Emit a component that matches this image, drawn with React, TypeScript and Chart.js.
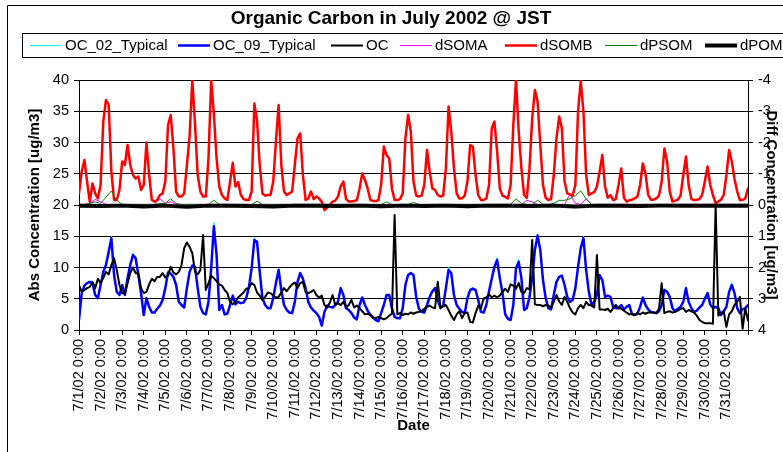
import React, { useEffect, useRef } from 'react';
import { Chart, registerables } from 'chart.js';

Chart.register(...registerables);

const FONT = "'Liberation Sans', Arial, sans-serif";

const chartTitle = 'Organic Carbon in July 2002 @ JST';
const xTitle = 'Date';
const yLeftTitle = 'Abs Concentration [ug/m3]';
const yRightTitle = 'Diff Concentration [ug/m3]';

const dayLabels = [
  '7/1/02 0:00', '7/2/02 0:00', '7/3/02 0:00', '7/4/02 0:00', '7/5/02 0:00', '7/6/02 0:00',
  '7/7/02 0:00', '7/8/02 0:00', '7/9/02 0:00', '7/10/02 0:00', '7/11/02 0:00', '7/12/02 0:00',
  '7/13/02 0:00', '7/14/02 0:00', '7/15/02 0:00', '7/16/02 0:00', '7/17/02 0:00', '7/18/02 0:00',
  '7/19/02 0:00', '7/20/02 0:00', '7/21/02 0:00', '7/22/02 0:00', '7/23/02 0:00', '7/24/02 0:00',
  '7/25/02 0:00', '7/26/02 0:00', '7/27/02 0:00', '7/28/02 0:00', '7/29/02 0:00', '7/30/02 0:00',
  '7/31/02 0:00',
];

// sampling interval of each series, in hours from 7/1/02 0:00
const mainStepHours = 3;
const minorStepHours = 6;
const dPomStepHours = 24;
const lastHour = 744;

// Abs concentration series (left axis, ug/m3), one row per day, 3-hourly
const oc02Typical = [
  1.6, 5.9, 7.1, 7.5, 7.9, 7.5, 5.6, 5.1,
  7.2, 9.3, 10.4, 12.5, 15.0, 8.8, 6.1, 5.6,
  7.2, 5.6, 8.3, 10.4, 12.3, 11.5, 8.8, 5.9,
  2.4, 5.1, 3.7, 2.8, 2.8, 3.4, 3.9, 4.8,
  6.7, 9.5, 9.0, 8.5, 7.2, 4.5, 4.0, 3.6,
  6.7, 9.3, 10.5, 10.1, 6.7, 3.7, 2.7, 2.5,
  4.5, 9.9, 17.2, 12.0, 3.2, 4.0, 2.5, 2.6,
  4.0, 5.5, 4.1, 4.5, 4.3, 4.4, 5.1, 6.9,
  9.9, 14.8, 14.1, 9.3, 5.1, 4.0, 3.5, 3.5,
  5.1, 7.5, 9.9, 6.4, 4.0, 3.2, 2.8, 2.7,
  4.5, 7.7, 9.3, 8.2, 6.7, 4.5, 3.6, 3.1,
  2.7, 2.1, 0.7, 2.9, 3.9, 3.7, 3.6, 4.0,
  4.5, 6.7, 5.6, 3.5, 3.2, 2.7, 2.0, 1.7,
  4.0, 5.2, 4.0, 3.1, 2.4, 2.0, 1.6, 1.4,
  2.7, 4.0, 5.6, 5.6, 3.5, 2.1, 1.9, 1.9,
  3.5, 7.2, 8.8, 9.3, 8.8, 5.3, 3.4, 2.9,
  2.8, 4.0, 5.3, 6.2, 6.9, 4.8, 3.5, 3.9,
  6.7, 10.0, 9.1, 5.6, 4.0, 3.4, 2.9, 2.7,
  5.1, 6.4, 6.8, 6.4, 4.8, 2.9, 2.8, 4.0,
  6.2, 8.2, 10.1, 11.6, 8.3, 5.9, 2.5, 1.8,
  1.6, 4.0, 9.9, 11.3, 8.3, 3.2, 3.5, 5.3,
  8.3, 12.8, 15.4, 12.8, 8.0, 5.1, 3.5, 3.3,
  5.6, 7.7, 8.5, 8.7, 7.2, 5.3, 4.5, 4.8,
  6.7, 10.1, 13.1, 15.0, 9.6, 6.1, 4.0, 4.5,
  5.6, 8.8, 8.0, 5.3, 5.5, 5.3, 3.7, 3.5,
  3.5, 4.0, 3.3, 3.7, 4.0, 2.5, 2.4, 2.6,
  3.7, 5.2, 4.0, 3.3, 2.9, 2.8, 2.7, 3.0,
  4.0, 6.6, 6.1, 5.3, 3.5, 3.0, 3.4, 3.7,
  4.5, 6.9, 4.5, 3.5, 2.9, 3.1, 3.6, 4.0,
  5.0, 6.1, 4.1, 3.5, 3.7, 3.5, 2.4, 3.0,
  3.7, 6.1, 7.6, 5.9, 3.5, 2.7, 3.3, 3.5,
  4.0,
];

const oc09Typical = [
  1.6, 5.9, 7.1, 7.5, 7.7, 7.5, 5.6, 5.1,
  7.2, 9.3, 10.4, 12.5, 14.7, 8.8, 6.1, 5.6,
  7.2, 5.6, 8.3, 10.4, 12.0, 11.5, 8.8, 5.9,
  2.4, 5.1, 3.7, 2.8, 2.8, 3.4, 3.9, 4.8,
  6.7, 9.2, 9.0, 8.5, 7.2, 4.5, 4.0, 3.6,
  6.7, 9.3, 10.3, 10.1, 6.7, 3.7, 2.7, 2.5,
  4.5, 9.9, 16.6, 12.0, 3.2, 4.0, 2.5, 2.6,
  4.0, 5.5, 4.1, 4.5, 4.3, 4.4, 5.1, 6.9,
  9.9, 14.4, 14.1, 9.3, 5.1, 4.0, 3.5, 3.5,
  5.1, 7.5, 9.6, 6.4, 4.0, 3.2, 2.8, 2.7,
  4.5, 7.7, 9.1, 8.2, 6.7, 4.5, 3.6, 3.1,
  2.7, 2.1, 0.7, 2.9, 3.9, 3.7, 3.6, 4.0,
  4.5, 6.7, 5.6, 3.5, 3.2, 2.7, 2.0, 1.7,
  4.0, 5.2, 4.0, 3.1, 2.4, 2.0, 1.6, 1.4,
  2.7, 4.0, 5.6, 5.6, 3.5, 2.1, 1.9, 1.9,
  3.5, 7.2, 8.8, 9.1, 8.8, 5.3, 3.4, 2.9,
  2.8, 4.0, 5.3, 6.2, 6.7, 4.8, 3.5, 3.9,
  6.7, 9.6, 9.1, 5.6, 4.0, 3.4, 2.9, 2.7,
  5.1, 6.4, 6.6, 6.4, 4.8, 2.9, 2.8, 4.0,
  6.2, 8.2, 10.1, 11.2, 8.3, 5.9, 2.5, 1.8,
  1.6, 4.0, 9.9, 10.9, 8.3, 3.2, 3.5, 5.3,
  8.3, 12.8, 15.1, 12.8, 8.0, 5.1, 3.5, 3.3,
  5.6, 7.7, 8.5, 8.7, 7.2, 5.3, 4.5, 4.8,
  6.7, 10.1, 13.1, 14.7, 9.6, 6.1, 4.0, 4.5,
  5.6, 8.8, 8.0, 5.3, 5.5, 5.3, 3.7, 3.5,
  3.5, 4.0, 3.3, 3.7, 4.0, 2.5, 2.4, 2.6,
  3.7, 5.2, 4.0, 3.3, 2.9, 2.8, 2.7, 3.0,
  4.0, 6.4, 6.1, 5.3, 3.5, 3.0, 3.4, 3.7,
  4.5, 6.7, 4.5, 3.5, 2.9, 3.1, 3.6, 4.0,
  5.0, 5.9, 4.1, 3.5, 3.7, 3.5, 2.4, 3.0,
  3.7, 6.1, 7.2, 5.9, 3.5, 2.7, 3.3, 3.5,
  4.0,
];

const ocMeasured = [
  7.2, 6.1, 6.4, 6.7, 6.9, 7.7, 6.7, 8.2,
  7.5, 8.3, 9.3, 8.9, 10.4, 11.5, 9.6, 7.2,
  5.9, 5.9, 7.5, 9.1, 10.0, 9.1, 9.1, 6.7,
  5.9, 6.1, 7.3, 8.2, 7.8, 8.5, 8.5, 9.1,
  8.4, 8.7, 10.1, 9.2, 8.9, 9.3, 10.4, 13.1,
  14.0, 13.3, 12.3, 9.3, 8.9, 9.6, 15.2, 6.4,
  7.5, 8.7, 8.3, 7.8, 7.3, 7.1, 6.4, 5.9,
  4.5, 4.1, 4.5, 5.2, 5.6, 6.0, 6.6, 6.7,
  7.5, 7.2, 6.0, 5.5, 4.8, 5.3, 6.0, 5.9,
  5.5, 5.2, 5.3, 6.0, 6.7, 6.2, 6.8, 7.3,
  7.6, 6.7, 7.5, 7.7, 6.1, 5.9, 6.1, 6.4,
  5.6, 5.2, 5.5, 4.0, 3.6, 4.4, 5.6, 4.0,
  4.3, 4.0, 4.5, 3.6, 4.0, 4.8, 3.6, 3.9,
  3.5, 3.0, 2.5, 2.6, 2.4, 2.0, 1.9, 2.1,
  1.9, 1.7, 1.9, 2.3, 2.6, 18.4, 2.5, 2.7,
  2.4, 2.6, 2.5, 2.8, 2.6, 2.8, 2.9, 3.0,
  3.4, 3.7, 3.9, 3.6, 3.5, 7.7, 3.6, 3.8,
  4.0, 3.2, 2.3, 1.6, 2.5, 3.0, 1.9, 2.7,
  2.8, 1.3, 1.2, 2.7, 3.9, 3.5, 5.0, 5.2,
  5.7, 5.2, 5.5, 5.2, 5.5, 6.1, 6.6, 6.1,
  7.3, 7.1, 6.6, 7.5, 6.1, 5.9, 6.7, 6.5,
  14.4, 4.1, 4.0, 4.0, 3.8, 4.0, 3.9, 3.6,
  4.5, 5.6, 4.6, 4.0, 5.3, 4.5, 3.5, 2.8,
  2.5, 3.5, 4.0, 3.5, 4.5, 4.0, 3.9, 3.6,
  12.0, 3.3, 3.3, 3.2, 3.4, 2.9, 3.5, 4.0,
  3.5, 3.4, 3.1, 2.8, 2.5, 2.6, 2.4, 2.7,
  2.5, 2.8, 2.6, 2.8, 2.8, 2.8, 2.7, 3.4,
  7.5, 2.7, 2.9, 3.0, 2.8, 2.9, 3.1, 3.4,
  3.5, 2.9, 3.2, 3.0, 2.8, 2.3, 1.6, 1.3,
  1.1, 1.1, 1.1, 1.0, 20.0, 2.3, 2.7, 3.0,
  0.5, 2.5, 3.0, 4.0, 4.5, 5.3, 0.2, 3.5,
  1.5,
];

// Diff concentration series (right axis, ug/m3)
// dSOMA: 6-hourly, one row per day
const dSOMA = [
  -0.02, -0.02, -0.05, -0.18,
  -0.1, -0.02, -0.02, -0.02,
  -0.02, -0.02, -0.02, -0.02,
  -0.02, -0.02, -0.02, -0.2,
  -0.05, -0.1, -0.02, -0.02,
  -0.02, -0.02, -0.02, -0.02,
  -0.02, -0.02, -0.02, -0.02,
  -0.02, -0.02, -0.02, -0.02,
  -0.02, -0.02, -0.02, -0.02,
  -0.02, -0.02, -0.02, -0.02,
  -0.02, -0.02, -0.02, -0.02,
  -0.02, -0.02, -0.02, -0.02,
  -0.02, -0.02, -0.02, -0.02,
  -0.02, -0.02, -0.02, -0.02,
  -0.02, -0.02, -0.02, -0.02,
  -0.02, -0.02, -0.02, -0.02,
  -0.02, -0.02, -0.02, -0.02,
  -0.02, -0.02, -0.02, -0.02,
  -0.02, -0.02, -0.02, -0.02,
  -0.02, -0.02, -0.02, -0.02,
  -0.02, -0.02, -0.02, -0.15,
  -0.1, -0.02, -0.02, -0.02,
  -0.02, -0.02, -0.02, -0.35,
  -0.05, -0.02, -0.2, -0.02,
  -0.02, -0.02, -0.02, -0.02,
  -0.02, -0.02, -0.02, -0.02,
  -0.02, -0.02, -0.02, -0.02,
  -0.02, -0.02, -0.02, -0.02,
  -0.02, -0.02, -0.02, -0.02,
  -0.02, -0.02, -0.02, -0.02,
  -0.02, -0.02, -0.02, -0.02,
  -0.02,
];

// dSOMB: 3-hourly, one row per day
const dSOMB = [
  -0.37, -1.07, -1.44, -0.75, -0.1, -0.69, -0.37, -0.21,
  -0.64, -2.67, -3.36, -3.2, -1.07, -0.16, -0.16, -0.48,
  -1.39, -1.28, -1.92, -1.28, -0.96, -0.85, -0.91, -0.48,
  -0.64, -2.0, -0.96, -0.16, -0.11, -0.16, -0.32, -0.37,
  -0.75, -2.56, -2.88, -1.81, -0.43, -0.27, -0.27, -0.37,
  -1.28, -2.2, -4.0, -2.6, -0.96, -0.43, -0.27, -0.27,
  -1.49, -4.0, -2.9, -1.49, -0.59, -0.32, -0.21, -0.16,
  -0.75, -1.35, -0.59, -0.73, -0.32, -0.19, -0.16, -0.16,
  -0.43, -3.25, -2.7, -1.28, -0.37, -0.3, -0.32, -0.32,
  -0.75, -2.03, -3.2, -1.28, -0.43, -0.32, -0.37, -0.43,
  -1.28, -2.13, -2.29, -0.96, -0.16, -0.21, -0.43, -0.19,
  -0.27, -0.21, -0.1, 0.16, 0.08, 0.0, -0.11, -0.14,
  -0.27, -0.59, -0.75, -0.19, -0.11, -0.11, -0.13, -0.15,
  -0.53, -1.01, -0.8, -0.53, -0.16, -0.13, -0.13, -0.15,
  -0.64, -1.87, -1.6, -1.49, -0.53, -0.16, -0.16, -0.19,
  -0.37, -2.13, -2.88, -2.35, -0.75, -0.3, -0.27, -0.3,
  -0.64, -1.76, -1.07, -0.53, -0.48, -0.32, -0.27, -0.3,
  -1.17, -3.15, -2.35, -1.17, -0.37, -0.21, -0.21, -0.3,
  -0.75, -1.92, -1.87, -0.96, -0.32, -0.16, -0.16, -0.21,
  -0.64, -2.45, -2.67, -1.71, -0.53, -0.3, -0.26, -0.21,
  -0.64, -2.56, -4.0, -2.35, -1.17, -0.32, -0.23, -1.17,
  -2.77, -3.68, -3.31, -1.92, -0.64, -0.23, -0.16, -0.19,
  -0.96, -2.13, -2.83, -2.45, -0.75, -0.37, -0.34, -0.3,
  -0.64, -2.99, -3.97, -2.99, -0.96, -0.32, -0.37, -0.41,
  -0.59, -1.07, -1.6, -0.59, -0.23, -0.32, -0.16, -0.19,
  -0.64, -1.17, -0.23, -0.11, -0.15, -0.17, -0.21, -0.27,
  -0.64, -1.33, -1.01, -0.32, -0.17, -0.17, -0.21, -0.3,
  -0.75, -1.81, -1.39, -0.43, -0.11, -0.14, -0.17, -0.3,
  -0.96, -1.55, -0.64, -0.19, -0.16, -0.17, -0.19, -0.32,
  -0.75, -1.23, -0.64, -0.32, -0.05, -0.11, -0.17, -0.32,
  -0.96, -1.76, -1.39, -0.83, -0.43, -0.16, -0.16, -0.21,
  -0.53,
];

// dPSOM: 6-hourly, one row per day
const dPSOM = [
  -0.02, -0.02, -0.05, -0.1,
  -0.05, -0.25, -0.45, -0.15,
  -0.02, -0.02, -0.02, -0.02,
  -0.02, -0.02, -0.02, -0.05,
  -0.05, -0.2, -0.05, -0.02,
  -0.02, -0.02, -0.02, -0.02,
  -0.02, -0.15, -0.02, -0.02,
  -0.02, -0.02, -0.02, -0.02,
  -0.02, -0.12, -0.02, -0.02,
  -0.02, -0.02, -0.02, -0.02,
  -0.02, -0.02, -0.02, -0.02,
  -0.02, -0.02, -0.02, -0.02,
  -0.02, -0.02, -0.02, -0.02,
  -0.02, -0.02, -0.02, -0.02,
  -0.02, -0.1, -0.02, -0.02,
  -0.02, -0.02, -0.08, -0.02,
  -0.02, -0.02, -0.02, -0.02,
  -0.02, -0.02, -0.02, -0.02,
  -0.02, -0.02, -0.02, -0.02,
  -0.02, -0.02, -0.02, -0.02,
  -0.02, -0.2, -0.05, -0.02,
  -0.02, -0.15, -0.02, -0.02,
  -0.05, -0.15, -0.15, -0.2,
  -0.3, -0.45, -0.2, -0.02,
  -0.02, -0.02, -0.02, -0.02,
  -0.02, -0.02, -0.02, -0.02,
  -0.02, -0.02, -0.02, -0.02,
  -0.02, -0.02, -0.02, -0.02,
  -0.02, -0.02, -0.02, -0.02,
  -0.02, -0.02, -0.02, -0.02,
  -0.02, -0.02, -0.02, -0.02,
  -0.02,
];

// dPOM: daily
const dPOM = [
  0.02, 0.03, 0.02, 0.05, 0.02, 0.06, 0.02, 0.02,
  0.03, 0.05, 0.02, 0.02, 0.03, 0.02, 0.04, 0.02,
  0.03, 0.02, 0.04, 0.02, 0.02, 0.03, 0.02, 0.05,
  0.02, 0.02, 0.03, 0.02, 0.02, 0.02, 0.02, 0.02,
];

const legendLineX = [30, 178, 331, 400, 505, 605, 705];

const toPoints = (values: number[], step: number) =>
  values.map((y, i) => ({ x: i * step, y }));

const decorPlugin = {
  id: 'decor',
  beforeDraw(chart: any) {
    const { ctx, width, height } = chart;
    ctx.save();
    ctx.fillStyle = '#ffffff';
    ctx.fillRect(0, 0, width, height);
    ctx.restore();
  },
  afterDraw(chart: any) {
    const { ctx, width, height } = chart;
    ctx.save();
    ctx.strokeStyle = '#000';
    ctx.lineWidth = 1;
    ctx.beginPath();
    ctx.moveTo(7.5, height + 2);
    ctx.lineTo(7.5, 5.5);
    ctx.lineTo(width + 2, 5.5);
    ctx.stroke();

    ctx.fillStyle = '#000';
    ctx.font = `bold 19px ${FONT}`;
    ctx.textAlign = 'center';
    ctx.textBaseline = 'middle';
    ctx.fillText(chartTitle, 391, 19);

    ctx.strokeRect(22.5, 33.5, width, 24);

    ctx.font = `15px ${FONT}`;
    ctx.textAlign = 'left';
    const ly = 45.5;
    chart.data.datasets.forEach((ds: any, i: number) => {
      const x0 = legendLineX[i];
      ctx.strokeStyle = ds.borderColor;
      ctx.lineWidth = ds.borderWidth;
      ctx.beginPath();
      ctx.moveTo(x0, ly);
      ctx.lineTo(x0 + 32, ly);
      ctx.stroke();
      ctx.fillStyle = '#000';
      ctx.fillText(ds.label, x0 + 35, ly);
    });
    ctx.restore();
  },
};

export default function App() {
  const ref = useRef<HTMLCanvasElement | null>(null);

  useEffect(() => {
    if (!ref.current) return;
    const tickFont = { family: FONT, size: 14.5 };
    const titleFont = { family: FONT, size: 15, weight: 'bold' as const };

    const chart = new Chart(ref.current, {
      type: 'line',
      data: {
        datasets: [
          { label: 'OC_02_Typical', data: toPoints(oc02Typical, mainStepHours), borderColor: '#00FFFF', borderWidth: 1, yAxisID: 'y', order: 7 },
          { label: 'OC_09_Typical', data: toPoints(oc09Typical, mainStepHours), borderColor: '#0000FF', borderWidth: 2.5, yAxisID: 'y', order: 6 },
          { label: 'OC', data: toPoints(ocMeasured, mainStepHours), borderColor: '#000000', borderWidth: 2, yAxisID: 'y', order: 5 },
          { label: 'dSOMA', data: toPoints(dSOMA, minorStepHours), borderColor: '#FF00FF', borderWidth: 1, yAxisID: 'y2', order: 4 },
          { label: 'dSOMB', data: toPoints(dSOMB, mainStepHours), borderColor: '#FF0000', borderWidth: 2.5, yAxisID: 'y2', order: 3 },
          { label: 'dPSOM', data: toPoints(dPSOM, minorStepHours), borderColor: '#008000', borderWidth: 1, yAxisID: 'y2', order: 2 },
          { label: 'dPOM', data: toPoints(dPOM, dPomStepHours), borderColor: '#000000', borderWidth: 4, yAxisID: 'y2', order: 1 },
        ] as any,
      },
      options: {
        responsive: false,
        animation: false,
        devicePixelRatio: 1,
        layout: { padding: { top: 80, left: 0, right: 0, bottom: 0 } },
        elements: {
          point: { radius: 0, hoverRadius: 0 },
          line: { tension: 0, fill: false, borderJoinStyle: 'round', borderCapStyle: 'round' },
        },
        plugins: {
          legend: { display: false },
          title: { display: false },
          tooltip: { enabled: false },
        },
        scales: {
          x: {
            type: 'linear',
            min: 0,
            max: lastHour,
            afterBuildTicks: (s: any) => {
              const t = dayLabels.map((_, i) => ({ value: i * 24 }));
              t.push({ value: lastHour });
              s.ticks = t;
            },
            afterFit: (s: any) => { s.height = 122; },
            ticks: {
              autoSkip: false,
              maxRotation: 90,
              minRotation: 90,
              padding: 4,
              color: '#000',
              font: tickFont,
              callback: (v: any) => dayLabels[Math.round(Number(v) / 24)] ?? '',
            },
            grid: { drawOnChartArea: false, drawTicks: true, tickLength: 5, color: '#000', lineWidth: 1 },
            border: { display: true, color: '#000', width: 1 },
            title: { display: true, text: xTitle, color: '#000', font: titleFont, padding: { top: 0, bottom: 17 } },
          },
          y: {
            type: 'linear',
            position: 'left',
            min: 0,
            max: 40,
            afterFit: (s: any) => { s.width = 79; },
            ticks: { stepSize: 5, padding: 5, color: '#000', font: tickFont },
            grid: { color: '#000', lineWidth: 1, drawTicks: true, tickLength: 5 },
            border: { display: true, color: '#000', width: 1 },
            title: { display: true, text: yLeftTitle, color: '#000', font: titleFont, padding: { top: 26, bottom: 0 } },
          },
          y2: {
            type: 'linear',
            position: 'right',
            min: -4,
            max: 4,
            reverse: true,
            afterFit: (s: any) => { s.width = 35; },
            ticks: { stepSize: 1, padding: 5, color: '#000', font: tickFont },
            grid: { drawOnChartArea: false, drawTicks: true, tickLength: 5, color: '#000', lineWidth: 1 },
            border: { display: true, color: '#000', width: 1 },
            title: { display: true, text: yRightTitle, color: '#000', font: titleFont, padding: { top: 3, bottom: 0 } },
          },
        },
      } as any,
      plugins: [decorPlugin],
    });

    return () => chart.destroy();
  }, []);

  return (
    <div style={{ position: 'fixed', left: 0, top: 0, width: 783, height: 452, background: '#fff' }}>
      <canvas ref={ref} width={783} height={452} style={{ display: 'block' }} />
    </div>
  );
}
